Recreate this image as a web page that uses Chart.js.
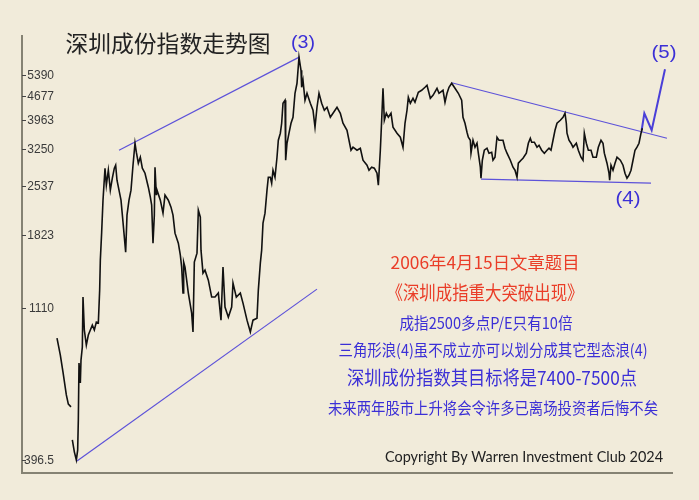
<!DOCTYPE html>
<html>
<head>
<meta charset="utf-8">
<script src="https://cdn.jsdelivr.net/npm/chart.js@4.4.1/dist/chart.umd.min.js"></script>
<style>
    html, body { margin: 0; padding: 0; background: #f1ebda; }
    #wrap { width: 699px; height: 500px; }
</style>
</head>
<body>
<div id="wrap"><canvas id="szChart" width="699" height="500"></canvas></div>
<script>
// Shenzhen component index (week number, close)
const weekIndex = [
    0, 5, 9, 14, 17, 21, 22, 23, 26, 29,
    31, 32, 33, 35, 36, 38, 39, 41, 44, 47,
    50, 53, 56, 59, 62, 64, 65, 67, 69, 72,
    74, 77, 80, 83, 86, 88, 90, 93, 96, 99,
    103, 105, 108, 111, 114, 117, 119, 122, 125, 128,
    132, 137, 140, 142, 144, 146, 147, 149, 150, 155,
    159, 162, 167, 171, 174, 177, 182, 185, 187, 189,
    190, 192, 197, 202, 204, 206, 210, 212, 215, 216,
    219, 222, 227, 232, 237, 242, 246, 249, 252, 257,
    262, 264, 269, 275, 279, 285, 290, 294, 300, 302,
    305, 307, 309, 312, 315, 317, 320, 322, 324, 327,
    330, 332, 335, 337, 339, 342, 343, 345, 348, 351,
    354, 357, 360, 363, 366, 367, 369, 372, 375, 380,
    384, 387, 390, 393, 397, 401, 405, 410, 414, 420,
    425, 429, 435, 438, 441, 444, 450, 455, 459, 465,
    468, 472, 476, 480, 482, 485, 487, 489, 491, 494,
    497, 501, 504, 510, 515, 519, 522, 525, 527, 530,
    534, 537, 542, 547, 552, 555, 560, 564, 570, 573,
    579, 582, 585, 588, 592, 597, 602, 607, 609, 612,
    615, 617, 620, 621, 624, 627, 630, 632, 635, 636,
    638, 641, 645, 648, 652, 654, 657, 660, 663, 669,
    672, 675, 680, 684, 687, 690, 692, 696, 699, 704,
    707, 710, 712, 716, 720, 723, 727, 731, 735, 738,
    741, 744, 747, 750, 755, 759, 762, 764, 765, 768,
    771, 774, 779, 782, 786, 789, 791, 794, 797, 801,
    804, 809, 812, 816, 819, 821, 825, 828, 829, 831,
    834, 837, 840, 845, 849, 852, 855, 858, 861, 864,
    867, 870, 873, 876, 878
];
const closeIndex = [
    905, 807, 719, 616, 579, 568, null, 454, 419, 396.5,
    424, 520, 764, 668, 780, 852, 1195, 956, 863, 924,
    956, 988, 956, 1009, 1002, 1253, 1535, 1855, 2303, 2860,
    2549, 2822, 2465, 2673, 2860, 2919, 2637, 2465, 2303, 1985,
    1620, 2081, 2303, 2465, 2919, 3387, 3187, 2959, 3081, 2860,
    2765, 2515, 2350, 2227, 1722, 2081, 2880, 2383, 2465, 2303,
    2109, 2383, 2303, 2197, 2081, 1842, 1722, 1587, 1464, 1228,
    1514, 1464, 1228, 1072, 943, 1514, 1609, 2152, 2053, 1642,
    1405, 1434, 1340, 1195, 1195, 1228, 1022, 1464, 1117, 1043,
    1117, 1314, 1195, 1228, 1147, 1022, 943, 1022, 1036, 1253,
    1504, 1642, 1971, 2109, 2465, 2691, 2691, 2584, 2822, 2691,
    3081, 3457, 3625, 3878, 4440, 4531, 3019, 3387, 3625, 3878,
    4039, 4751, 5084, 6062, 5551, 4948, 5188, 4531, 4751, 4440,
    4235, 3775, 4322, 4751, 4440, 4235, 4322, 4039, 4150, 4322,
    4150, 3878, 3699, 3457, 3231, 3297, 3231, 3275, 3019, 2919,
    2822, 2880, 2860, 2765, 2549, 3231, 3958, 4915, 3958, 4150,
    4039, 4150, 3775, 3625, 3528, 3297, 3878, 4235, 4624, 4440,
    4593, 4471, 4784, 4849, 4948, 5016, 4593, 4687, 4915, 4751,
    4849, 4471, 4751, 4948, 5084, 4915, 4751, 4531, 4039, 3878,
    3649, 3528, 3457, 3166, 3457, 3297, 3387, 3166, 2880, 2673,
    3019, 3231, 3275, 3166, 3187, 3019, 3081, 3528, 3457, 3457,
    3275, 3166, 3019, 2880, 2822, 2691, 2959, 3019, 3060, 3166,
    3387, 3504, 3411, 3411, 3297, 3342, 3231, 3166, 3231, 3275,
    3231, 3457, 3699, 3878, 3958, 4039, 4150, 3878, 3625, 3457,
    3387, 3297, 3387, 3231, 3081, 3019, 3625, 3387, 3231, 3231,
    3081, 3081, 3297, 3457, 3387, 3166, 2959, 2765, 2637, 2919,
    2822, 2959, 3081, 3019, 2919, 2765, 2673, 2728, 2822, 3019,
    3231, 3297, 3387, 3625, 3749
];

// wave trend lines (week, index level)
const topLineWeeks = [93, 364];
const topLineValues = [3231, 6080];
const supportWeeks = [30, 390];
const supportValues = [394, 1261];
const triangleTopWeeks = [592, 915];
const triangleTopValues = [5101, 3504];
const triangleBaseWeeks = [636, 891];
const triangleBaseValues = [2655, 2584];
const wave5Weeks = [877, 881, 892, 912];
const wave5Values = [3699, 4150, 3699, 5589];

// y axis ticks
const yTickValues = [396.5, 1110, 1823, 2537, 3250, 3963, 4677, 5390];
const yTickLabels = ['396.5', '1110', '1823', '2537', '3250', '3963', '4677', '5390'];

const BG = '#f1ebda';
const LINE_BLUE = '#5d52d9';
const TEXT_BLUE = '#3b2fd6';
const TEXT_RED = '#ea3d28';
const CJK = '"Noto Sans CJK SC", sans-serif';

function toPoints(xs, ys) {
    return xs.map((x, i) => ({ x: x, y: ys[i] }));
}

function trendSet(xs, ys, width, color) {
    return {
        data: toPoints(xs, ys),
        borderColor: color || LINE_BLUE,
        borderWidth: width || 1.2,
        pointRadius: 0,
        tension: 0
    };
}

// draw text squeezed/stretched to the width seen in the picture
function fitText(ctx, text, cx, cy, width, size, family, color) {
    ctx.save();
    ctx.font = size + 'px ' + family;
    const w = ctx.measureText(text).width;
    ctx.translate(cx, cy);
    ctx.scale(width / w, 1);
    ctx.fillStyle = color;
    ctx.textAlign = 'center';
    ctx.textBaseline = 'middle';
    ctx.fillText(text, 0, 0);
    ctx.restore();
}

const decorPlugin = {
    id: 'decor',
    beforeDraw(chart) {
        const ctx = chart.ctx;
        ctx.save();
        ctx.fillStyle = BG;
        ctx.fillRect(0, 0, chart.width, chart.height);
        ctx.restore();
    },
    beforeDatasetsDraw(chart) {
        const ctx = chart.ctx;
        const area = chart.chartArea;
        const yScale = chart.scales.y;
        ctx.save();
        // axes
        ctx.strokeStyle = '#858273';
        ctx.lineWidth = 2;
        ctx.beginPath();
        ctx.moveTo(area.left, area.top);
        ctx.lineTo(area.left, area.bottom);
        ctx.lineTo(area.right, area.bottom);
        ctx.stroke();
        // ticks + labels inside the plot
        ctx.lineWidth = 1;
        ctx.strokeStyle = '#444';
        ctx.fillStyle = '#3a3a3a';
        ctx.font = '12px "Liberation Sans", Arial, sans-serif';
        ctx.textAlign = 'right';
        ctx.textBaseline = 'middle';
        yTickValues.forEach((v, i) => {
            const y = Math.round(yScale.getPixelForValue(v)) + 0.5;
            ctx.beginPath();
            ctx.moveTo(area.left, y);
            ctx.lineTo(area.left + 4, y);
            ctx.stroke();
            ctx.fillText(yTickLabels[i], area.left + 32, y);
        });
        ctx.restore();
    },
    afterDraw(chart) {
        const ctx = chart.ctx;
        fitText(ctx, '深圳成份指数走势图', 168, 43, 205, 23, CJK, '#222');
        fitText(ctx, '(3)', 303, 43, 24, 19, '"Liberation Sans", Arial', TEXT_BLUE);
        fitText(ctx, '(5)', 664, 53, 25, 19, '"Liberation Sans", Arial', TEXT_BLUE);
        fitText(ctx, '(4)', 628, 199, 25, 19, '"Liberation Sans", Arial', TEXT_BLUE);

        fitText(ctx, '2006年4月15日文章题目', 485, 263, 189, 17, CJK, TEXT_RED);
        fitText(ctx, '《深圳成指重大突破出现》', 485, 293, 197, 19, CJK, TEXT_RED);
        fitText(ctx, '成指2500多点P/E只有10倍', 486, 323, 173, 16, CJK, TEXT_BLUE);
        fitText(ctx, '三角形浪(4)虽不成立亦可以划分成其它型态浪(4)', 493, 350, 309, 16, CJK, TEXT_BLUE);
        fitText(ctx, '深圳成份指数其目标将是7400-7500点', 492, 378, 290, 19, CJK, TEXT_BLUE);
        fitText(ctx, '未来两年股市上升将会令许多已离场投资者后悔不矣', 493, 408, 330, 16, CJK, TEXT_BLUE);
        fitText(ctx, 'Copyright By Warren Investment Club 2024', 524, 457, 278, 16, 'Lato, sans-serif', '#222');
    }
};

new Chart(document.getElementById('szChart'), {
    type: 'line',
    data: {
        datasets: [
            {
                data: toPoints(weekIndex, closeIndex),
                borderColor: '#111',
                borderWidth: 1.6,
                pointRadius: 0,
                tension: 0,
                spanGaps: false
            },
            trendSet(topLineWeeks, topLineValues),
            trendSet(supportWeeks, supportValues),
            trendSet(triangleTopWeeks, triangleTopValues),
            trendSet(triangleBaseWeeks, triangleBaseValues),
            trendSet(wave5Weeks, wave5Values, 2, '#4a3fd8')
        ]
    },
    options: {
        responsive: false,
        animation: false,
        layout: { padding: { left: 22, top: 35, right: 26, bottom: 27 } },
        scales: {
            x: { type: 'linear', min: -52.5, max: 924, display: false },
            y: { type: 'logarithmic', min: 363, max: 7050, display: false }
        },
        plugins: {
            legend: { display: false },
            tooltip: { enabled: false }
        }
    },
    plugins: [decorPlugin]
});
</script>
</body>
</html>
